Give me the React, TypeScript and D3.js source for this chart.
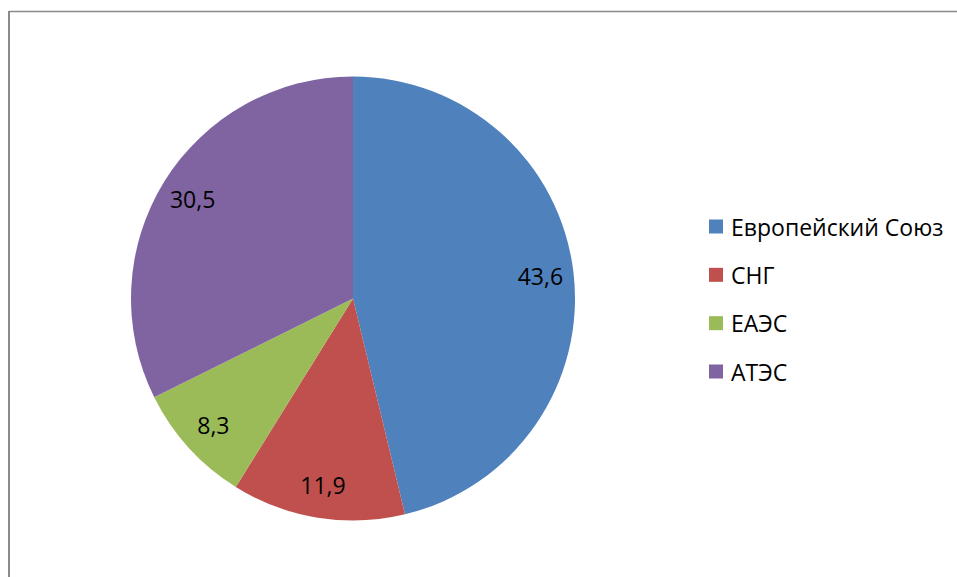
import React from "react";
import * as d3 from "d3";

const categories = ["Европейский Союз", "СНГ", "ЕАЭС", "АТЭС"];
const values = [43.6, 11.9, 8.3, 30.5];
const valueLabels = ["43,6", "11,9", "8,3", "30,5"];
const colors = ["#4F81BD", "#C0504D", "#9BBB59", "#8064A2"];

const W = 957;
const H = 577;
const cx = 353;
const cy = 298.5;
const R = 222;
const FONT = "'Open Sans', 'Noto Sans', sans-serif";

export default function App() {
  const pie = d3
    .pie<number>()
    .sort(null)
    .value((d) => d);
  const arcs = pie(values);
  const arc = d3.arc<d3.PieArcDatum<number>>().innerRadius(0).outerRadius(R);
  const labelArc = d3
    .arc<d3.PieArcDatum<number>>()
    .innerRadius(R * 0.85)
    .outerRadius(R * 0.85);

  const legendY = d3
    .scalePoint<string>()
    .domain(categories)
    .range([226.5, 371.5]);

  return (
    <svg
      width={W}
      height={H}
      style={{ position: "absolute", left: 0, top: 0, background: "#fff" }}
    >
      <rect x={0} y={0} width={W} height={H} fill="#fff" />
      <line x1={9} y1={11.5} x2={W} y2={11.5} stroke="#8a8a8a" strokeWidth={1.5} />
      <line x1={9} y1={11} x2={9} y2={H} stroke="#8a8a8a" strokeWidth={2} />
      <g transform={`translate(${cx},${cy})`}>
        {arcs.map((a, i) => (
          <path key={i} d={arc(a) || ""} fill={colors[i]} />
        ))}
        {arcs.map((a, i) => {
          const [x, y] = labelArc.centroid(a);
          return (
            <text
              key={i}
              x={x}
              y={y}
              textAnchor="middle"
              dominantBaseline="central"
              fontFamily={FONT}
              fontSize={23}
              fill="#000"
            >
              {valueLabels[i]}
            </text>
          );
        })}
      </g>
      <g>
        {categories.map((c, i) => {
          const y = legendY(c) as number;
          return (
            <g key={c}>
              <rect x={709} y={y - 7} width={14} height={14} fill={colors[i]} />
              <text
                x={731}
                y={y}
                dominantBaseline="central"
                fontFamily={FONT}
                fontSize={23}
                fill="#000"
              >
                {c}
              </text>
            </g>
          );
        })}
      </g>
    </svg>
  );
}
